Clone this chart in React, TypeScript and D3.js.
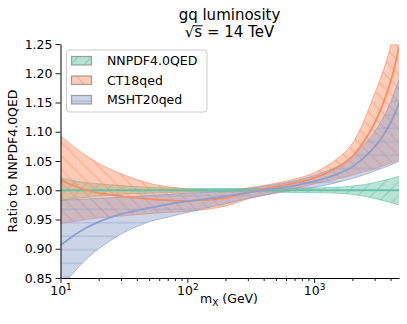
import React, { useEffect, useRef } from 'react';
import * as d3 from 'd3';

// mass grid (GeV)
const massPoints = [10, 13, 16, 20, 30, 50, 70, 100, 150, 200, 300, 500, 700, 1000, 1500, 2000, 3000, 4000, 4667];

const nnpdfCentral = [1.0, 1.0, 1.0, 1.0, 1.0, 1.0, 1.0, 1.0, 1.0, 1.0, 1.0, 1.0, 1.0, 1.0, 1.0, 1.0, 1.0, 1.0, 1.0];
const nnpdfUpper = [1.021, 1.016, 1.013, 1.011, 1.008, 1.005, 1.004, 1.003, 1.003, 1.003, 1.003, 1.003, 1.004, 1.004, 1.005, 1.007, 1.013, 1.020, 1.024];
const nnpdfLower = [0.982, 0.986, 0.988, 0.990, 0.993, 0.995, 0.996, 0.997, 0.997, 0.997, 0.997, 0.997, 0.996, 0.996, 0.995, 0.993, 0.986, 0.979, 0.975];

const ct18Central = [1.018, 1.007, 1.0, 0.995, 0.99, 0.985, 0.983, 0.982, 0.984, 0.987, 0.996, 1.006, 1.012, 1.021, 1.038, 1.058, 1.115, 1.185, 1.245];
const ct18Upper = [1.093, 1.073, 1.059, 1.046, 1.028, 1.012, 1.006, 1.002, 1.0, 1.0, 1.004, 1.012, 1.019, 1.03, 1.053, 1.08, 1.165, 1.245, 1.33];
const ct18Lower = [0.943, 0.947, 0.95, 0.953, 0.956, 0.96, 0.962, 0.964, 0.968, 0.973, 0.985, 0.996, 1.003, 1.011, 1.019, 1.026, 1.037, 1.046, 1.052];

const mshtCentral = [0.906, 0.924, 0.936, 0.946, 0.959, 0.97, 0.976, 0.981, 0.986, 0.99, 0.996, 1.003, 1.008, 1.015, 1.027, 1.04, 1.074, 1.115, 1.15];
const mshtUpper = [0.983, 0.984, 0.985, 0.986, 0.988, 0.991, 0.993, 0.995, 0.997, 0.999, 1.003, 1.01, 1.016, 1.025, 1.04, 1.058, 1.1, 1.15, 1.19];
const mshtLower = [0.83, 0.862, 0.882, 0.9, 0.925, 0.946, 0.954, 0.962, 0.971, 0.977, 0.986, 0.995, 1.0, 1.005, 1.013, 1.02, 1.033, 1.043, 1.049];

const seriesNames = ['NNPDF4.0QED', 'CT18qed', 'MSHT20qed'];
const seriesColors = ['#66c2a5', '#fc8d62', '#8da0cb'];
const hatchKinds = ['/', '\\', '-'];

const yTicks = [0.85, 0.9, 0.95, 1.0, 1.05, 1.1, 1.15, 1.2, 1.25];
const xMajorTicks = [10, 100, 1000];
const xMinorTicks = [20, 30, 40, 50, 60, 70, 80, 90, 200, 300, 400, 500, 600, 700, 800, 900, 2000, 3000, 4000];

const FONT = '"DejaVu Sans", sans-serif';

function App() {
  const ref = useRef<SVGSVGElement | null>(null);

  useEffect(() => {
    const svg = d3.select(ref.current);
    svg.selectAll('*').remove();

    const left = 60.5, right = 399, top = 44, bottom = 278;
    const x = d3.scaleLog().domain([10, 4667]).range([left, right]);
    const y = d3.scaleLinear().domain([0.85, 1.25]).range([bottom, top]);

    const defs = svg.append('defs');
    defs.append('clipPath').attr('id', 'plotClip')
      .append('rect')
      .attr('x', left).attr('y', top)
      .attr('width', right - left).attr('height', bottom - top);

    const hs = 13.5;
    hatchKinds.forEach((h, i) => {
      const p = defs.append('pattern')
        .attr('id', 'hatch' + i)
        .attr('patternUnits', 'userSpaceOnUse')
        .attr('width', hs).attr('height', hs);
      const g = p.append('g').attr('stroke', seriesColors[i]).attr('stroke-width', 1);
      if (h === '/') {
        g.append('line').attr('x1', 0).attr('y1', hs).attr('x2', hs).attr('y2', 0);
        g.append('line').attr('x1', -hs).attr('y1', hs).attr('x2', hs).attr('y2', -hs);
        g.append('line').attr('x1', 0).attr('y1', 2 * hs).attr('x2', 2 * hs).attr('y2', 0);
      } else if (h === '\\') {
        g.append('line').attr('x1', 0).attr('y1', 0).attr('x2', hs).attr('y2', hs);
        g.append('line').attr('x1', -hs).attr('y1', 0).attr('x2', hs).attr('y2', 2 * hs);
        g.append('line').attr('x1', 0).attr('y1', -hs).attr('x2', 2 * hs).attr('y2', hs);
      } else {
        g.append('line').attr('x1', 0).attr('y1', hs / 2).attr('x2', hs).attr('y2', hs / 2);
      }
    });

    const bands = [
      { c: nnpdfCentral, u: nnpdfUpper, l: nnpdfLower },
      { c: ct18Central, u: ct18Upper, l: ct18Lower },
      { c: mshtCentral, u: mshtUpper, l: mshtLower },
    ];

    const plot = svg.append('g').attr('clip-path', 'url(#plotClip)');
    const curve = d3.curveCatmullRom.alpha(0.5);

    bands.forEach((b, i) => {
      const pts = massPoints.map((m, k) => ({ m, lo: b.l[k], hi: b.u[k] }));
      const area = d3.area<{ m: number; lo: number; hi: number }>()
        .x(d => x(d.m)).y0(d => y(d.lo)).y1(d => y(d.hi))
        .curve(curve);
      plot.append('path').attr('d', area(pts) as string)
        .attr('fill', seriesColors[i]).attr('fill-opacity', 0.45);
      plot.append('path').attr('d', area(pts) as string)
        .attr('fill', `url(#hatch${i})`).attr('opacity', 0.6);
      const edge = d3.line<{ m: number; v: number }>()
        .x(d => x(d.m)).y(d => y(d.v)).curve(curve);
      [b.u, b.l].forEach(arr => {
        plot.append('path')
          .attr('d', edge(massPoints.map((m, k) => ({ m, v: arr[k] }))) as string)
          .attr('fill', 'none').attr('stroke', seriesColors[i])
          .attr('stroke-opacity', 0.65).attr('stroke-width', 1);
      });
    });

    bands.forEach((b, i) => {
      const line = d3.line<{ m: number; v: number }>()
        .x(d => x(d.m)).y(d => y(d.v)).curve(curve);
      plot.append('path')
        .attr('d', line(massPoints.map((m, k) => ({ m, v: b.c[k] }))) as string)
        .attr('fill', 'none').attr('stroke', seriesColors[i]).attr('stroke-width', 1.8);
    });

    // axes
    const yAxis = svg.append('g')
      .attr('transform', `translate(${left},0)`)
      .call(d3.axisLeft(y).tickValues(yTicks).tickFormat(d3.format('.2f')).tickSize(5).tickPadding(3).tickSizeOuter(0));
    yAxis.selectAll('text').attr('font-size', 12.5).attr('font-family', FONT).attr('fill', '#000');

    const xAxis = svg.append('g')
      .attr('transform', `translate(0,${bottom})`)
      .call(d3.axisBottom(x).tickValues(xMajorTicks).tickFormat(() => '').tickSize(5).tickSizeOuter(0));
    xAxis.selectAll<SVGTextElement, number>('.tick text').each(function (d) {
      const t = d3.select(this).attr('font-size', 12.5).attr('font-family', FONT).attr('fill', '#000').attr('dy', null).attr('y', 17);
      t.append('tspan').text('10');
      t.append('tspan').attr('dy', -5).attr('font-size', 9).text(String(Math.round(Math.log10(d))));
    });
    svg.append('g')
      .attr('transform', `translate(0,${bottom})`)
      .call(d3.axisBottom(x).tickValues(xMinorTicks).tickFormat(() => '').tickSize(3))
      .select('.domain').remove();

    svg.selectAll('.domain').attr('stroke', '#000').attr('stroke-width', 1);
    svg.selectAll('.tick line').attr('stroke', '#000').attr('stroke-width', 0.9);

    // title
    const title = svg.append('g').attr('font-family', FONT).attr('fill', '#000').attr('text-anchor', 'middle');
    title.append('text').attr('x', 229.5).attr('y', 19.5).attr('font-size', 15).text('gq luminosity');
    const t2 = title.append('text').attr('x', 229.5).attr('y', 36.5).attr('font-size', 15).text('√s = 14 TeV');
    const t2n = t2.node() as SVGTextElement;
    try {
      const x0 = t2n.getEndPositionOfChar(0).x;
      const x1 = t2n.getEndPositionOfChar(1).x;
      title.append('line').attr('x1', x0 - 1).attr('x2', x1 + 0.5).attr('y1', 25.8).attr('y2', 25.8)
        .attr('stroke', '#000').attr('stroke-width', 1);
    } catch (e) {
      // ignore
    }

    const xl = svg.append('text').attr('x', 229).attr('y', 303).attr('text-anchor', 'middle')
      .attr('font-family', FONT).attr('font-size', 12.5).attr('fill', '#000');
    xl.append('tspan').text('m');
    xl.append('tspan').attr('dy', 3).attr('font-size', 9).text('X');
    xl.append('tspan').attr('dy', -3).text(' (GeV)');

    svg.append('text')
      .attr('transform', `translate(17,${(top + bottom) / 2}) rotate(-90)`)
      .attr('text-anchor', 'middle').attr('font-family', FONT).attr('font-size', 12.5).attr('fill', '#000')
      .text('Ratio to NNPDF4.0QED');

    // legend
    const lg = svg.append('g');
    lg.append('rect').attr('x', 66.5).attr('y', 50).attr('width', 140.5).attr('height', 62).attr('rx', 3)
      .attr('fill', '#fff').attr('fill-opacity', 0.8).attr('stroke', '#cccccc').attr('stroke-width', 1);
    seriesNames.forEach((name, i) => {
      const yy = 56.5 + i * 19.5;
      lg.append('rect').attr('x', 71.5).attr('y', yy).attr('width', 20).attr('height', 8.5)
        .attr('fill', seriesColors[i]).attr('fill-opacity', 0.45);
      lg.append('rect').attr('x', 71.5).attr('y', yy).attr('width', 20).attr('height', 8.5)
        .attr('fill', `url(#hatch${i})`).attr('opacity', 0.7)
        .attr('stroke', '#7f7f7f').attr('stroke-width', 1.2);
      lg.append('text').attr('x', 107).attr('y', yy + 8.8)
        .attr('font-family', FONT).attr('font-size', 12.5).attr('fill', '#000').text(name);
    });
  }, []);

  return (
    <svg ref={ref} width={407} height={324} style={{ position: 'absolute', left: 0, top: 0, background: '#fff' }} />
  );
}

export default App;
